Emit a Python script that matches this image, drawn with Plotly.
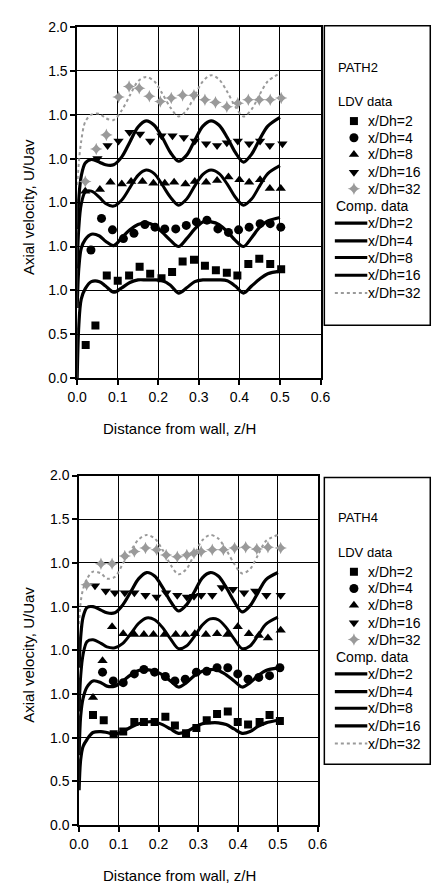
import plotly.graph_objects as go

W, H = 446, 893          # browser window
OFF = 8                  # default <body> margin of the written page
FW, FH = W - OFF, H - OFF

# ---------------- data ----------------
series_names = ["x/Dh=2", "x/Dh=4", "x/Dh=8", "x/Dh=16", "x/Dh=32"]
series_offsets = [0.0, 0.5, 1.0, 1.5, 2.0]   # stacked display offsets

x_ticks = [0.0, 0.1, 0.2, 0.3, 0.4, 0.5, 0.6]
x_tick_text = ["0.0", "0.1", "0.2", "0.3", "0.4", "0.5", "0.6"]
x_minor_ticks = [0.05, 0.15, 0.25, 0.35, 0.45, 0.55]
y_ticks = [0.0, 0.5, 1.0, 1.5, 2.0, 2.5, 3.0, 3.5, 4.0]
y_tick_text = ["0.0", "0.5", "1.0", "1.0", "1.0", "1.0", "1.0", "1.5", "2.0"]

# computed profiles (common z grid)
curve_z = [0.0, 0.004, 0.01, 0.02, 0.035, 0.055, 0.07, 0.09, 0.11, 0.13, 0.15, 0.17, 0.19, 0.21,
           0.23, 0.25, 0.27, 0.29, 0.31, 0.33, 0.35, 0.37, 0.39, 0.41, 0.43, 0.45, 0.47, 0.5]

# PATH2
p2_comp_2 = [0.00, 0.60, 0.90, 1.02, 1.10, 1.10, 1.05, 0.98, 1.03, 1.09, 1.12, 1.12, 1.12, 1.11,
             1.06, 0.97, 1.03, 1.10, 1.12, 1.12, 1.12, 1.11, 1.05, 0.97, 1.05, 1.13, 1.19, 1.22]
p2_comp_4 = [0.30, 0.75, 0.98, 1.08, 1.14, 1.12, 1.06, 1.01, 1.10, 1.19, 1.25, 1.27, 1.24, 1.16,
             1.07, 1.00, 1.09, 1.20, 1.28, 1.28, 1.25, 1.17, 1.07, 1.00, 1.10, 1.22, 1.29, 1.33]
p2_comp_8 = [0.25, 0.70, 0.98, 1.12, 1.13, 1.06, 0.99, 0.96, 1.03, 1.17, 1.31, 1.37, 1.33, 1.20,
             1.06, 0.97, 1.04, 1.19, 1.32, 1.37, 1.33, 1.21, 1.06, 0.97, 1.04, 1.19, 1.33, 1.42]
p2_comp_16 = [0.20, 0.55, 0.80, 0.95, 0.99, 0.96, 0.93, 0.93, 1.02, 1.19, 1.36, 1.43, 1.38, 1.24,
              1.07, 0.97, 1.04, 1.21, 1.37, 1.43, 1.38, 1.24, 1.07, 0.96, 1.05, 1.22, 1.37, 1.47]
p2_comp_32 = [0.20, 0.45, 0.70, 0.92, 1.00, 1.01, 0.96, 0.94, 1.05, 1.22, 1.38, 1.43, 1.38, 1.24,
              1.08, 0.98, 1.05, 1.22, 1.38, 1.45, 1.40, 1.26, 1.09, 0.98, 1.06, 1.23, 1.38, 1.47]

# PATH4
p4_comp_2 = [0.40, 0.75, 0.90, 0.98, 1.06, 1.07, 1.06, 1.04, 1.07, 1.12, 1.16, 1.18, 1.18, 1.15,
             1.10, 1.05, 1.07, 1.12, 1.16, 1.17, 1.17, 1.15, 1.10, 1.05, 1.07, 1.13, 1.17, 1.20]
p4_comp_4 = [0.30, 0.75, 0.95, 1.08, 1.15, 1.13, 1.09, 1.09, 1.15, 1.22, 1.27, 1.28, 1.26, 1.22,
             1.15, 1.08, 1.13, 1.21, 1.26, 1.28, 1.27, 1.22, 1.15, 1.08, 1.13, 1.21, 1.27, 1.30]
p4_comp_8 = [0.30, 0.70, 0.95, 1.10, 1.12, 1.08, 1.04, 1.03, 1.08, 1.19, 1.31, 1.37, 1.35, 1.26,
             1.13, 1.02, 1.05, 1.16, 1.29, 1.36, 1.35, 1.26, 1.13, 1.02, 1.05, 1.17, 1.30, 1.38]
p4_comp_16 = [0.30, 0.65, 0.88, 0.99, 1.00, 0.96, 0.93, 0.93, 1.02, 1.17, 1.32, 1.39, 1.35, 1.22,
              1.06, 0.95, 1.02, 1.17, 1.33, 1.39, 1.35, 1.22, 1.06, 0.94, 1.01, 1.16, 1.31, 1.39]
p4_comp_32 = [0.30, 0.55, 0.70, 0.82, 0.90, 0.88, 0.82, 0.84, 0.99, 1.14, 1.27, 1.32, 1.28, 1.15,
              0.98, 0.87, 0.93, 1.10, 1.26, 1.32, 1.28, 1.15, 0.99, 0.88, 0.93, 1.09, 1.25, 1.32]

# LDV measurements, PATH2
p2_ldv_z_2 = [0.021, 0.045, 0.073, 0.100, 0.128, 0.154, 0.180, 0.208, 0.234, 0.260, 0.288, 0.315,
              0.342, 0.369, 0.395, 0.422, 0.449, 0.476, 0.503]
p2_ldv_u_2 = [0.38, 0.60, 1.17, 1.11, 1.17, 1.27, 1.19, 1.14, 1.21, 1.33, 1.35, 1.28,
              1.23, 1.20, 1.17, 1.30, 1.36, 1.30, 1.24]
p2_ldv_z_4 = [0.034, 0.060, 0.087, 0.114, 0.140, 0.167, 0.192, 0.216, 0.243, 0.269, 0.294, 0.320,
              0.347, 0.373, 0.398, 0.424, 0.451, 0.476, 0.502]
p2_ldv_u_4 = [0.96, 1.32, 1.19, 1.09, 1.15, 1.25, 1.22, 1.20, 1.20, 1.24, 1.28, 1.30,
              1.20, 1.16, 1.19, 1.22, 1.26, 1.26, 1.22]
p2_ldv_z_8 = [0.020, 0.056, 0.082, 0.110, 0.133, 0.161, 0.188, 0.216, 0.239, 0.267, 0.290, 0.318,
              0.345, 0.373, 0.400, 0.424, 0.451, 0.475, 0.502]
p2_ldv_u_8 = [1.13, 1.15, 1.23, 1.21, 1.24, 1.24, 1.22, 1.22, 1.23, 1.21, 1.24, 1.23,
              1.25, 1.29, 1.26, 1.23, 1.26, 1.16, 1.16]
p2_ldv_z_16 = [0.050, 0.075, 0.102, 0.129, 0.155, 0.180, 0.208, 0.235, 0.263, 0.290, 0.318,
               0.345, 0.369, 0.396, 0.424, 0.451, 0.475, 0.506]
p2_ldv_u_16 = [1.00, 1.15, 1.20, 1.30, 1.28, 1.20, 1.26, 1.26, 1.24, 1.20, 1.17,
               1.15, 1.18, 1.20, 1.17, 1.20, 1.15, 1.17]
p2_ldv_z_32 = [0.020, 0.047, 0.072, 0.102, 0.128, 0.153, 0.178, 0.205, 0.232, 0.260, 0.288, 0.315,
               0.341, 0.369, 0.396, 0.422, 0.449, 0.476, 0.503]
p2_ldv_u_32 = [0.24, 0.61, 0.77, 1.20, 1.32, 1.30, 1.21, 1.15, 1.19, 1.22, 1.22, 1.17,
               1.14, 1.09, 1.13, 1.17, 1.17, 1.17, 1.19]

# LDV measurements, PATH4
p4_ldv_z_2 = [0.035, 0.062, 0.087, 0.111, 0.139, 0.163, 0.190, 0.217, 0.241, 0.269, 0.295, 0.321,
              0.347, 0.374, 0.399, 0.425, 0.454, 0.479, 0.505]
p4_ldv_u_2 = [1.26, 1.20, 1.04, 1.07, 1.18, 1.18, 1.18, 1.24, 1.14, 1.05, 1.11, 1.20,
              1.27, 1.30, 1.18, 1.15, 1.18, 1.26, 1.19]
p4_ldv_z_4 = [0.059, 0.086, 0.111, 0.139, 0.163, 0.190, 0.217, 0.241, 0.267, 0.295, 0.321,
              0.347, 0.374, 0.399, 0.425, 0.452, 0.479, 0.505]
p4_ldv_u_4 = [1.25, 1.15, 1.13, 1.23, 1.28, 1.25, 1.20, 1.15, 1.17, 1.25, 1.26,
              1.30, 1.30, 1.23, 1.17, 1.19, 1.21, 1.30]
p4_ldv_z_8 = [0.035, 0.059, 0.083, 0.111, 0.139, 0.163, 0.187, 0.215, 0.243, 0.267, 0.291, 0.319,
              0.347, 0.373, 0.399, 0.427, 0.452, 0.475, 0.507]
p4_ldv_u_8 = [0.46, 0.88, 1.27, 1.19, 1.18, 1.18, 1.18, 1.18, 1.18, 1.18, 1.19, 1.18,
              1.19, 1.18, 1.27, 1.19, 1.17, 1.14, 1.23]
p4_ldv_z_16 = [0.040, 0.067, 0.090, 0.115, 0.139, 0.167, 0.195, 0.219, 0.247, 0.271, 0.289,
               0.307, 0.335, 0.359, 0.387, 0.415, 0.443, 0.471, 0.507]
p4_ldv_u_16 = [1.24, 1.18, 1.16, 1.16, 1.16, 1.13, 1.11, 1.16, 1.13, 1.11, 1.12,
               1.13, 1.13, 1.22, 1.20, 1.16, 1.18, 1.13, 1.13]
p4_ldv_z_32 = [0.019, 0.055, 0.083, 0.115, 0.139, 0.167, 0.195, 0.219, 0.247, 0.271, 0.289,
               0.307, 0.335, 0.363, 0.391, 0.419, 0.447, 0.475, 0.507]
p4_ldv_u_32 = [0.75, 0.99, 0.99, 1.08, 1.13, 1.17, 1.15, 1.09, 1.07, 1.09, 1.11,
               1.13, 1.15, 1.15, 1.17, 1.18, 1.16, 1.18, 1.17]

panel_titles = ["PATH2", "PATH4"]

# ---------------- styles ----------------
marker_symbols = ["square", "circle", "triangle-up", "triangle-down", "star-diamond"]
marker_sizes = [8, 9, 9, 9, 9]
mark_colors = ["#000000", "#000000", "#000000", "#000000", "#9a9a9a"]
line_widths = [3.2, 3.2, 3.0, 3.2, 2.0]
line_dashes = ["solid", "solid", "solid", "solid", "dot"]

FONT = "Liberation Sans, Arial, sans-serif"

panels = [
    dict(comp=[p2_comp_2, p2_comp_4, p2_comp_8, p2_comp_16, p2_comp_32],
         lz=[p2_ldv_z_2, p2_ldv_z_4, p2_ldv_z_8, p2_ldv_z_16, p2_ldv_z_32],
         lu=[p2_ldv_u_2, p2_ldv_u_4, p2_ldv_u_8, p2_ldv_u_16, p2_ldv_u_32]),
    dict(comp=[p4_comp_2, p4_comp_4, p4_comp_8, p4_comp_16, p4_comp_32],
         lz=[p4_ldv_z_2, p4_ldv_z_4, p4_ldv_z_8, p4_ldv_z_16, p4_ldv_z_32],
         lu=[p4_ldv_u_2, p4_ldv_u_4, p4_ldv_u_8, p4_ldv_u_16, p4_ldv_u_32]),
]

# pixel boxes (window coordinates) of the two plot areas: (left, right, top, bottom)
plot_boxes = [(70, 325, 19, 377), (72, 322, 476, 832)]
legend_top = [0, 459]   # vertical shift of legend block

fig = go.Figure()

for pi, pan in enumerate(panels):
    xa = "x" if pi == 0 else "x2"
    ya = "y" if pi == 0 else "y2"
    for si in range(5):
        off = series_offsets[si]
        fig.add_trace(go.Scatter(
            x=curve_z, y=[v + off for v in pan["comp"][si]], mode="lines",
            line=dict(color=mark_colors[si], width=line_widths[si], dash=line_dashes[si],
                      shape="spline", smoothing=0.9),
            xaxis=xa, yaxis=ya, showlegend=False, hoverinfo="skip"))
    for si in range(5):
        off = series_offsets[si]
        fig.add_trace(go.Scatter(
            x=pan["lz"][si], y=[v + off for v in pan["lu"][si]], mode="markers",
            marker=dict(symbol=marker_symbols[si], size=marker_sizes[si], color=mark_colors[si],
                        line=dict(width=0)),
            xaxis=xa, yaxis=ya, showlegend=False, hoverinfo="skip"))

# legend keys on a window-pixel axis (x3/y3)
annotations = []
shapes = []
for pi in range(2):
    dy = legend_top[pi]
    shapes.append(dict(type="rect", xref="x3", yref="y3", x0=329, x1=440,
                       y0=18 + dy + (0 if pi == 0 else 1), y1=323 + dy + (0 if pi == 0 else -12),
                       line=dict(color="black", width=1.5)))
    annotations.append(dict(xref="x3", yref="y3", x=341, y=60 + dy, text=panel_titles[pi],
                            showarrow=False, xanchor="left", yanchor="middle",
                            font=dict(family=FONT, size=13, color="black")))
    annotations.append(dict(xref="x3", yref="y3", x=341, y=95 + dy, text="LDV data",
                            showarrow=False, xanchor="left", yanchor="middle",
                            font=dict(family=FONT, size=13, color="black")))
    annotations.append(dict(xref="x3", yref="y3", x=339, y=202 + dy, text="Comp. data",
                            showarrow=False, xanchor="left", yanchor="middle",
                            font=dict(family=FONT, size=14, color="black")))
    mark_rows = [115, 132, 149, 167, 184]
    line_rows = [219, 237, 254, 272, 290]
    for si in range(5):
        ym = mark_rows[si] + dy
        fig.add_trace(go.Scatter(
            x=[360], y=[ym], mode="markers", xaxis="x3", yaxis="y3",
            marker=dict(symbol=marker_symbols[si], size=marker_sizes[si], color=mark_colors[si]),
            showlegend=False, hoverinfo="skip"))
        annotations.append(dict(xref="x3", yref="y3", x=373, y=ym, text=series_names[si],
                                showarrow=False, xanchor="left", yanchor="middle",
                                font=dict(family=FONT, size=14, color="black")))
        yl = line_rows[si] + dy
        fig.add_trace(go.Scatter(
            x=[340, 374], y=[yl, yl], mode="lines", xaxis="x3", yaxis="y3",
            line=dict(color=mark_colors[si], width=line_widths[si], dash=line_dashes[si]),
            showlegend=False, hoverinfo="skip"))
        annotations.append(dict(xref="x3", yref="y3", x=373, y=yl, text=series_names[si],
                                showarrow=False, xanchor="left", yanchor="middle",
                                font=dict(family=FONT, size=14, color="black")))

# axis titles
for pi in range(2):
    l, r, t, b = plot_boxes[pi]
    annotations.append(dict(xref="x3", yref="y3", x=177, y=b + 51, text="Distance from wall, z/H",
                            showarrow=False, xanchor="center", yanchor="middle",
                            font=dict(family=FONT, size=15, color="black")))
    annotations.append(dict(xref="x3", yref="y3", x=19, y=(t + b) / 2 + 5, text="Axial velocity, U/Uav",
                            showarrow=False, textangle=-90, xanchor="center", yanchor="middle",
                            font=dict(family=FONT, size=15, color="black")))

common_ax = dict(showgrid=True, gridcolor="black", gridwidth=1, zeroline=False,
                 showline=True, linecolor="black", linewidth=1.5, mirror=True,
                 ticks="outside", ticklen=5, tickwidth=1.5, tickcolor="black",
                 tickfont=dict(family=FONT, size=14, color="black"))

layout = dict(width=FW, height=FH, margin=dict(l=0, r=0, t=0, b=0),
              paper_bgcolor="white", plot_bgcolor="rgba(0,0,0,0)", showlegend=False,
              annotations=annotations, shapes=shapes)
for pi in range(2):
    l, r, t, b = plot_boxes[pi]
    xk = "xaxis" if pi == 0 else "xaxis2"
    yk = "yaxis" if pi == 0 else "yaxis2"
    layout[xk] = dict(common_ax, domain=[(l - OFF) / FW, (r - OFF) / FW], range=[0, 0.6],
                      tickvals=x_ticks, ticktext=x_tick_text,
                      anchor="y" if pi == 0 else "y2")
    layout[yk] = dict(common_ax, domain=[1 - (b - OFF) / FH, 1 - (t - OFF) / FH], range=[0, 4],
                      tickvals=y_ticks, ticktext=y_tick_text,
                      anchor="x" if pi == 0 else "x2")
    # small inside tick marks along the top edge
    mk = "xaxis4" if pi == 0 else "xaxis5"
    layout[mk] = dict(overlaying="x" if pi == 0 else "x2", anchor="y" if pi == 0 else "y2",
                      side="top", range=[0, 0.6], tickvals=x_minor_ticks,
                      ticks="inside", ticklen=4, tickwidth=1.2, tickcolor="black",
                      showticklabels=False, showgrid=False, showline=False, zeroline=False)
layout["xaxis3"] = dict(domain=[0, 1], range=[OFF, W], visible=False, anchor="y3", fixedrange=True)
layout["yaxis3"] = dict(domain=[0, 1], range=[H, OFF], visible=False, anchor="x3", fixedrange=True)

fig.update_layout(**layout)
fig.write_html("out.html")
